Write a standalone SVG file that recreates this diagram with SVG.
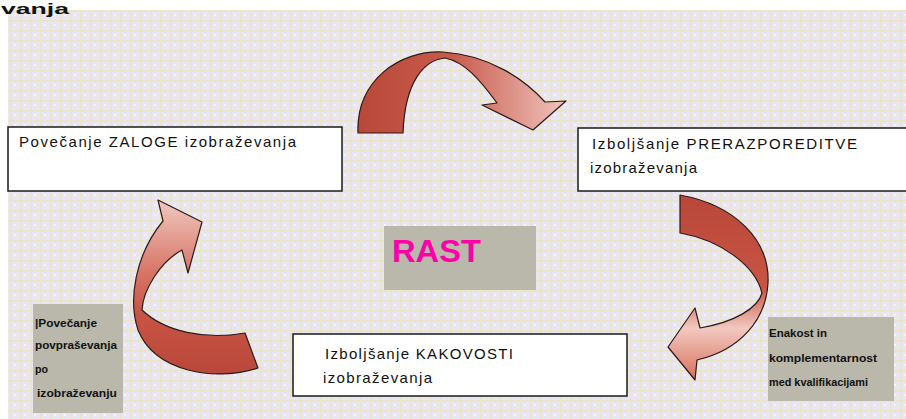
<svg xmlns="http://www.w3.org/2000/svg" width="906" height="419" viewBox="0 0 906 419">
<style>
.box{fill:#fff;stroke:#1a1a1a;stroke-width:1.5}
.gbox{fill:#b9b8aa}
.t{font-family:"Liberation Sans",Arial,sans-serif;font-size:15px;fill:#111}
.s{font-family:"Liberation Sans",Arial,sans-serif;font-size:11px;font-weight:bold;fill:#111}
.arr{stroke:#2a1a1a;stroke-width:1.2;stroke-linejoin:round}
</style>
<defs>
<pattern id="bg" width="10" height="10" patternUnits="userSpaceOnUse">
<rect width="10" height="10" fill="#e7e5f6"/>
<rect x="0" y="0" width="10" height="1.5" fill="#e9e5c6"/>
<rect x="0" y="0" width="1.5" height="10" fill="#e9e5c6"/>
<rect x="4" y="4" width="2" height="2" fill="#f4f2fa"/>
<rect x="6" y="6" width="1" height="1" fill="#ebe8d2"/>
<rect x="3" y="7" width="1" height="1" fill="#ebe8d2"/>
</pattern>
<linearGradient id="g1" x1="0" y1="0" x2="1" y2="0">
<stop offset="0" stop-color="#b9483a"/>
<stop offset="0.45" stop-color="#c85a4c"/>
<stop offset="1" stop-color="#f0c4bc"/>
</linearGradient>
<linearGradient id="g2" x1="0" y1="0" x2="0" y2="1">
<stop offset="0" stop-color="#b9483a"/>
<stop offset="0.5" stop-color="#c85444"/>
<stop offset="0.72" stop-color="#f2c8c0"/>
<stop offset="1" stop-color="#d8705a"/>
</linearGradient>
<linearGradient id="g3" x1="0" y1="1" x2="0" y2="0">
<stop offset="0" stop-color="#b9483a"/>
<stop offset="0.35" stop-color="#c85444"/>
<stop offset="0.6" stop-color="#d8786a"/>
<stop offset="1" stop-color="#f2c8c0"/>
</linearGradient>
</defs>
<rect x="8" y="10" width="898" height="409" fill="url(#bg)"/>
<text x="1" y="13.5" font-family="Liberation Sans,Arial,sans-serif" font-size="15" font-weight="bold" fill="#111" textLength="68" lengthAdjust="spacingAndGlyphs">vanja</text>

<g id="connectors">
<path id="arrow-top" class="arr" fill="url(#g1)" d="M358,133 C356,80 400,50 443,52 C490,55 525,80 545,102 L566,101 L533,130 L482,105 L497,103 C480,80 465,62 445,58 C425,60 405,80 403,133 Z"/>
<path id="arrow-right" class="arr" fill="url(#g2)" d="M680,195 C735,205 770,240 768,283 C766,320 740,350 697,360 L695,380 L668,347 L695,308 L700,328 C735,322 758,308 762,293 C755,265 720,240 680,233 Z"/>
<path id="arrow-left" class="arr" fill="url(#g3)" d="M245,333 L258,368 C215,382 155,372 138,330 C128,300 135,255 163,221 L158,200 L202,222 L188,273 L182,250 C160,262 143,290 142,310 C165,332 205,340 245,333 Z"/>
</g>

<g id="node-zaloga">
<rect class="box" x="8" y="127" width="334" height="64"/>
<text class="t" x="19" y="147" textLength="277" lengthAdjust="spacing">Povečanje ZALOGE izobraževanja</text>
</g>
<g id="node-prerazporeditev">
<rect class="box" x="578" y="128" width="340" height="63"/>
<text class="t" x="592" y="149" textLength="265" lengthAdjust="spacing">Izboljšanje PRERAZPOREDITVE</text>
<text class="t" x="590" y="173" textLength="107" lengthAdjust="spacing">izobraževanja</text>
</g>
<g id="node-kakovost">
<rect class="box" x="293" y="334" width="334" height="62"/>
<text class="t" x="325" y="359" textLength="188" lengthAdjust="spacing">Izboljšanje KAKOVOSTI</text>
<text class="t" x="323" y="383" textLength="109" lengthAdjust="spacing">izobraževanja</text>
</g>
<g id="node-rast">
<rect class="gbox" x="384" y="226" width="152" height="64"/>
<text x="392" y="262" font-family="Liberation Sans,Arial,sans-serif" font-size="32" font-weight="bold" fill="#ff00a8" textLength="89" lengthAdjust="spacingAndGlyphs">RAST</text>
</g>
<g id="node-povprasevanje">
<rect class="gbox" x="33" y="304" width="90" height="109"/>
<text class="s" x="35" y="327" textLength="62" lengthAdjust="spacingAndGlyphs">|Povečanje</text>
<text class="s" x="35" y="349" textLength="82" lengthAdjust="spacingAndGlyphs">povpraševanja</text>
<text class="s" x="35" y="373" textLength="13" lengthAdjust="spacingAndGlyphs">po</text>
<text class="s" x="37" y="397" textLength="80" lengthAdjust="spacingAndGlyphs">izobraževanju</text>
</g>
<g id="node-enakost">
<rect class="gbox" x="768" y="317" width="126" height="84"/>
<text class="s" x="769" y="337" textLength="58" lengthAdjust="spacingAndGlyphs">Enakost in</text>
<text class="s" x="769" y="362" textLength="108" lengthAdjust="spacingAndGlyphs">komplementarnost</text>
<text class="s" x="769" y="386" textLength="99" lengthAdjust="spacingAndGlyphs">med kvalifikacijami</text>
</g>
</svg>
